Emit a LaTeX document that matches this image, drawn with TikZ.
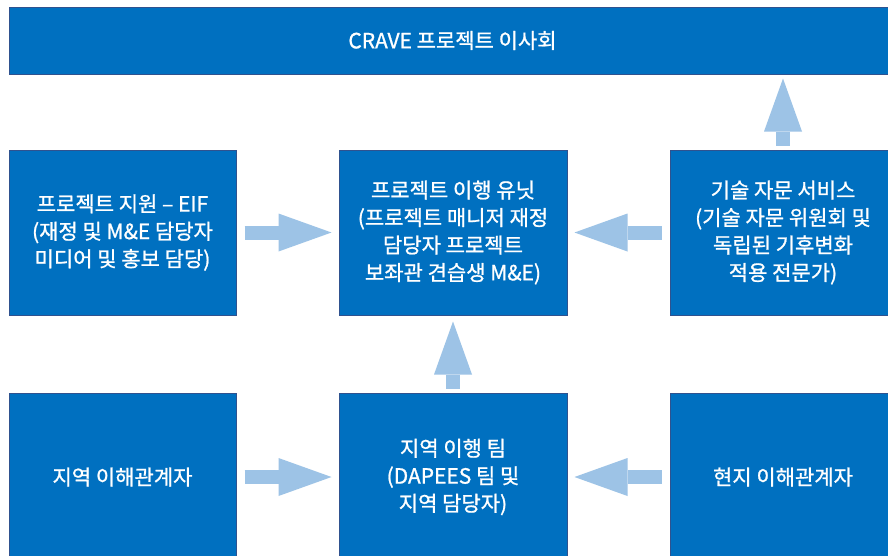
\documentclass[tikz,border=0pt]{standalone}
\usepackage{fontspec}
\setmainfont{Noto Sans CJK KR}[FakeBold=1]
\usetikzlibrary{arrows.meta,calc}
\definecolor{boxblue}{RGB}{0,112,192}
\definecolor{boxedge}{RGB}{47,82,143}
\definecolor{arrowblue}{RGB}{157,195,230}
\begin{document}
\begin{tikzpicture}[x=1pt,y=-1pt,
  box/.style={draw=boxedge, line width=1pt, fill=boxblue, text=white, align=center,
    font=\fontsize{21}{27.5}\selectfont, inner sep=0pt},
  blockarrow/.style={draw=arrowblue, line width=14pt,
    -{Triangle[length=53pt, width=38pt, line width=0pt, fill=arrowblue]}}]
\useasboundingbox[clip] (0,0) rectangle (888,555);
\fill[white] (0,0) rectangle (888,555);
\node[box, minimum width=887, minimum height=67] (top) at (452.5,40.5) {CRAVE 프로젝트 이사회};
\node[box, minimum width=227, minimum height=165] (ml) at (122.5,232.5) {프로젝트 지원 – EIF\\(재정 및 M\&E 담당자\\미디어 및 홍보 담당)};
\node[box, minimum width=228, minimum height=165] (mc) at (453,232.5) {프로젝트 이행 유닛\\(프로젝트 매니저 재정\\담당자 프로젝트\\보좌관 견습생 M\&E)};
\node[box, minimum width=226, minimum height=165] (mr) at (783,232.5) {기술 자문 서비스\\(기술 자문 위원회 및\\독립된 기후변화\\적용 전문가)};
\node[box, minimum width=227, minimum height=168] (bl) at (122.5,477) {지역 이해관계자};
\node[box, minimum width=228, minimum height=168] (bc) at (453,477) {지역 이행 팀\\(DAPEES 팀 및\\지역 담당자)};
\node[box, minimum width=226, minimum height=168] (br) at (783,477) {현지 이해관계자};
\draw[blockarrow] ($(ml.east)+(8,0)$) -- ($(mc.west)+(-7,0)$);
\draw[blockarrow] ($(mr.west)+(-8,0)$) -- ($(mc.east)+(7,0)$);
\draw[blockarrow] ($(bl.east)+(8,0)$) -- ($(bc.west)+(-7,0)$);
\draw[blockarrow] ($(br.west)+(-8,0)$) -- ($(bc.east)+(7,0)$);
\draw[blockarrow] ($(bc.north)+(0,-4)$) -- ($(mc.south)+(0,6)$);
\draw[blockarrow] ($(mr.north)+(0,-4)$) -- ($(mr.north |- top.south)+(0,4)$);
\end{tikzpicture}
\end{document}
